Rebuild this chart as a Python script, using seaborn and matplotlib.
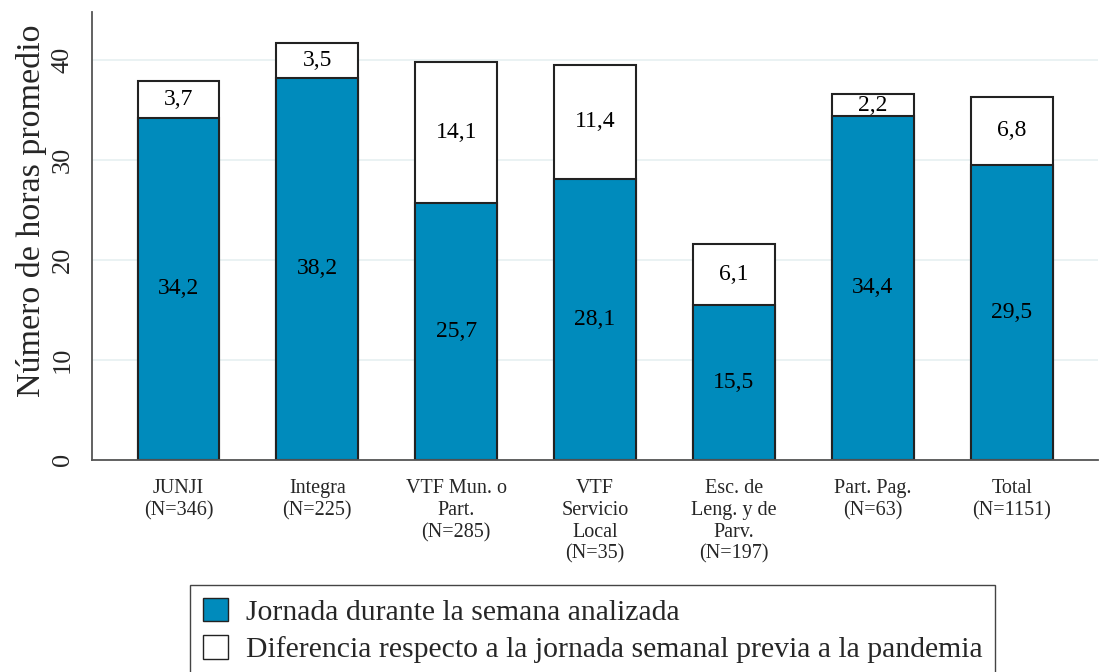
import matplotlib
matplotlib.use("Agg")
import matplotlib.pyplot as plt
import seaborn as sns
import pandas as pd
from matplotlib.patches import Patch

categorias = ["JUNJI\n(N=346)", "Integra\n(N=225)", "VTF Mun. o\nPart.\n(N=285)",
              "VTF\nServicio\nLocal\n(N=35)", "Esc. de\nLeng. y de\nParv.\n(N=197)",
              "Part. Pag.\n(N=63)", "Total\n(N=1151)"]
jornada = [34.2, 38.2, 25.7, 28.1, 15.5, 34.4, 29.5]
diferencia = [3.7, 3.5, 14.1, 11.4, 6.1, 2.2, 6.8]

azul = "#008BBC"
borde = "#222222"

df = pd.DataFrame({"cat": categorias, "jornada": jornada, "diferencia": diferencia})
df["total"] = df["jornada"] + df["diferencia"]

sns.set_style("white")
plt.rcParams["font.family"] = ["Liberation Serif", "DejaVu Serif"]

fig = plt.figure(figsize=(11, 6.72), dpi=100)
ax = fig.add_axes([0.084, 0.316, 0.914, 0.666])

sns.barplot(data=df, x="cat", y="total", color="white", saturation=1, width=0.59,
            edgecolor=borde, linewidth=1.5, ax=ax)
sns.barplot(data=df, x="cat", y="jornada", color=azul, saturation=1, width=0.59,
            edgecolor=borde, linewidth=1.5, ax=ax)

# etiquetas en el centro de cada segmento
for i, row in df.iterrows():
    ax.text(i, row["jornada"] / 2, f"{row['jornada']:.1f}".replace(".", ","),
            ha="center", va="center", fontsize=17, color="black")
    ax.text(i, row["jornada"] + row["diferencia"] / 2,
            f"{row['diferencia']:.1f}".replace(".", ","),
            ha="center", va="center", fontsize=17, color="black")

ax.set_xlim(-0.62, 6.62)
ax.set_ylim(0, 44.8)
ax.set_yticks([0, 10, 20, 30, 40])
ax.yaxis.grid(True, color="#e6f0f1", linewidth=1.2)
ax.set_axisbelow(True)
ax.set_xlabel("")
ax.set_ylabel("Número de horas promedio", fontsize=24.5)
ax.yaxis.set_label_coords(-0.045, 0.556)

for s in ["top", "right"]:
    ax.spines[s].set_visible(False)
for s in ["left", "bottom"]:
    ax.spines[s].set_color("#555555")
    ax.spines[s].set_linewidth(1.3)

ax.tick_params(axis="y", direction="out", length=8.5, width=1.2, color="#555555",
               labelsize=19, pad=5)
plt.setp(ax.get_yticklabels(), rotation=90, va="center")
ax.tick_params(axis="x", length=0, labelsize=14.5, pad=14)
for lab in ax.get_xticklabels():
    lab.set_linespacing(1.2)

handles = [Patch(facecolor=azul, edgecolor=borde, label="Jornada durante la semana analizada"),
           Patch(facecolor="white", edgecolor=borde,
                 label="Diferencia respecto a la jornada semanal previa a la pandemia")]
fig.legend(handles=handles, loc="upper left", bbox_to_anchor=(0.173, 0.129),
           bbox_transform=fig.transFigure, fontsize=21.4, frameon=True, fancybox=False,
           edgecolor="#444444", handlelength=0.84, handleheight=0.84, handletextpad=0.6,
           labelspacing=0.32, borderpad=0.42, borderaxespad=0, framealpha=1)

fig.savefig("out.png", dpi=100)
